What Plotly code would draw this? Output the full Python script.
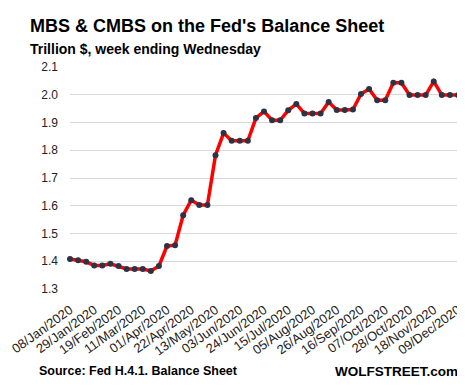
import plotly.graph_objects as go
import pandas as pd

# Weekly dates (week ending Wednesday)
week_dates = pd.date_range("2020-01-08", "2020-12-09", freq="7D")

# MBS & CMBS holdings, trillion $
values = [1.408, 1.404, 1.398, 1.385, 1.385, 1.391, 1.383, 1.372, 1.372, 1.372,
          1.365, 1.383, 1.455, 1.458, 1.566, 1.620, 1.603, 1.603, 1.782, 1.862,
          1.834, 1.834, 1.834, 1.916, 1.940, 1.908, 1.908, 1.944, 1.967, 1.932,
          1.932, 1.932, 1.974, 1.945, 1.945, 1.947, 2.003, 2.021, 1.980, 1.980,
          2.043, 2.043, 1.999, 1.999, 1.999, 2.048, 1.999, 1.999, 1.999]

tick_labels = ["08/Jan/2020", "29/Jan/2020", "19/Feb/2020", "11/Mar/2020", "01/Apr/2020",
               "22/Apr/2020", "13/May/2020", "03/Jun/2020", "24/Jun/2020", "15/Jul/2020",
               "05/Aug/2020", "26/Aug/2020", "16/Sep/2020", "07/Oct/2020", "28/Oct/2020",
               "18/Nov/2020", "09/Dec/2020"]
tick_dates = [pd.to_datetime(t, format="%d/%b/%Y") for t in tick_labels]

y_ticks = [1.3, 1.4, 1.5, 1.6, 1.7, 1.8, 1.9, 2.0, 2.1]
y_tick_text = ["1.3", "1.4", "1.5", "1.6", "1.7", "1.8", "1.9", "2.0", "2.1"]

fig = go.Figure()
fig.add_trace(go.Scatter(
    x=week_dates, y=values, mode="lines+markers",
    line=dict(color="#ff0000", width=3.5),
    marker=dict(symbol="circle", size=6, color="#2d3344"),
    cliponaxis=False, hoverinfo="x+y",
))

fig.update_layout(
    width=457, height=380,
    margin=dict(l=62, r=7, t=59, b=99, autoexpand=False),
    paper_bgcolor="white", plot_bgcolor="white",
    showlegend=False,
    font=dict(family="Liberation Sans, Arial, sans-serif", color="#000000"),
    xaxis=dict(
        range=[week_dates[0], week_dates[-1]],
        tickvals=tick_dates, ticktext=tick_labels,
        tickangle=-36, tickfont=dict(size=13, color="#222222"),
        showgrid=False, zeroline=False, showline=False, ticks="",
        ticklabelstandoff=10, automargin=False,
    ),
    yaxis=dict(
        range=[1.3, 2.1],
        tickvals=y_ticks, ticktext=y_tick_text,
        tickfont=dict(size=12, color="#222222"),
        showgrid=True, gridcolor="#d9d9d9", gridwidth=1,
        zeroline=False, showline=False, ticks="", ticklabelstandoff=11,
        automargin=False,
    ),
    annotations=[
        dict(text="<b>MBS & CMBS on the Fed's Balance Sheet</b>", xref="paper", yref="paper",
             x=-0.108, y=1.24, xanchor="left", yanchor="top", showarrow=False,
             font=dict(size=18, color="#000000")),
        dict(text="<b>Trillion $, week ending Wednesday</b>", xref="paper", yref="paper",
             x=-0.108, y=1.125, xanchor="left", yanchor="top", showarrow=False,
             font=dict(size=14, color="#000000")),
        dict(text="<b>Source: Fed H.4.1. Balance Sheet</b>", xref="paper", yref="paper",
             x=-0.085, y=-0.33, xanchor="left", yanchor="top", showarrow=False,
             font=dict(size=12.5, color="#000000")),
        dict(text="<b>WOLFSTREET.com</b>", xref="paper", yref="paper",
             x=1.005, y=-0.33, xanchor="right", yanchor="top", showarrow=False,
             font=dict(size=13.5, color="#000000")),
    ],
)

fig.write_html("out.html")
